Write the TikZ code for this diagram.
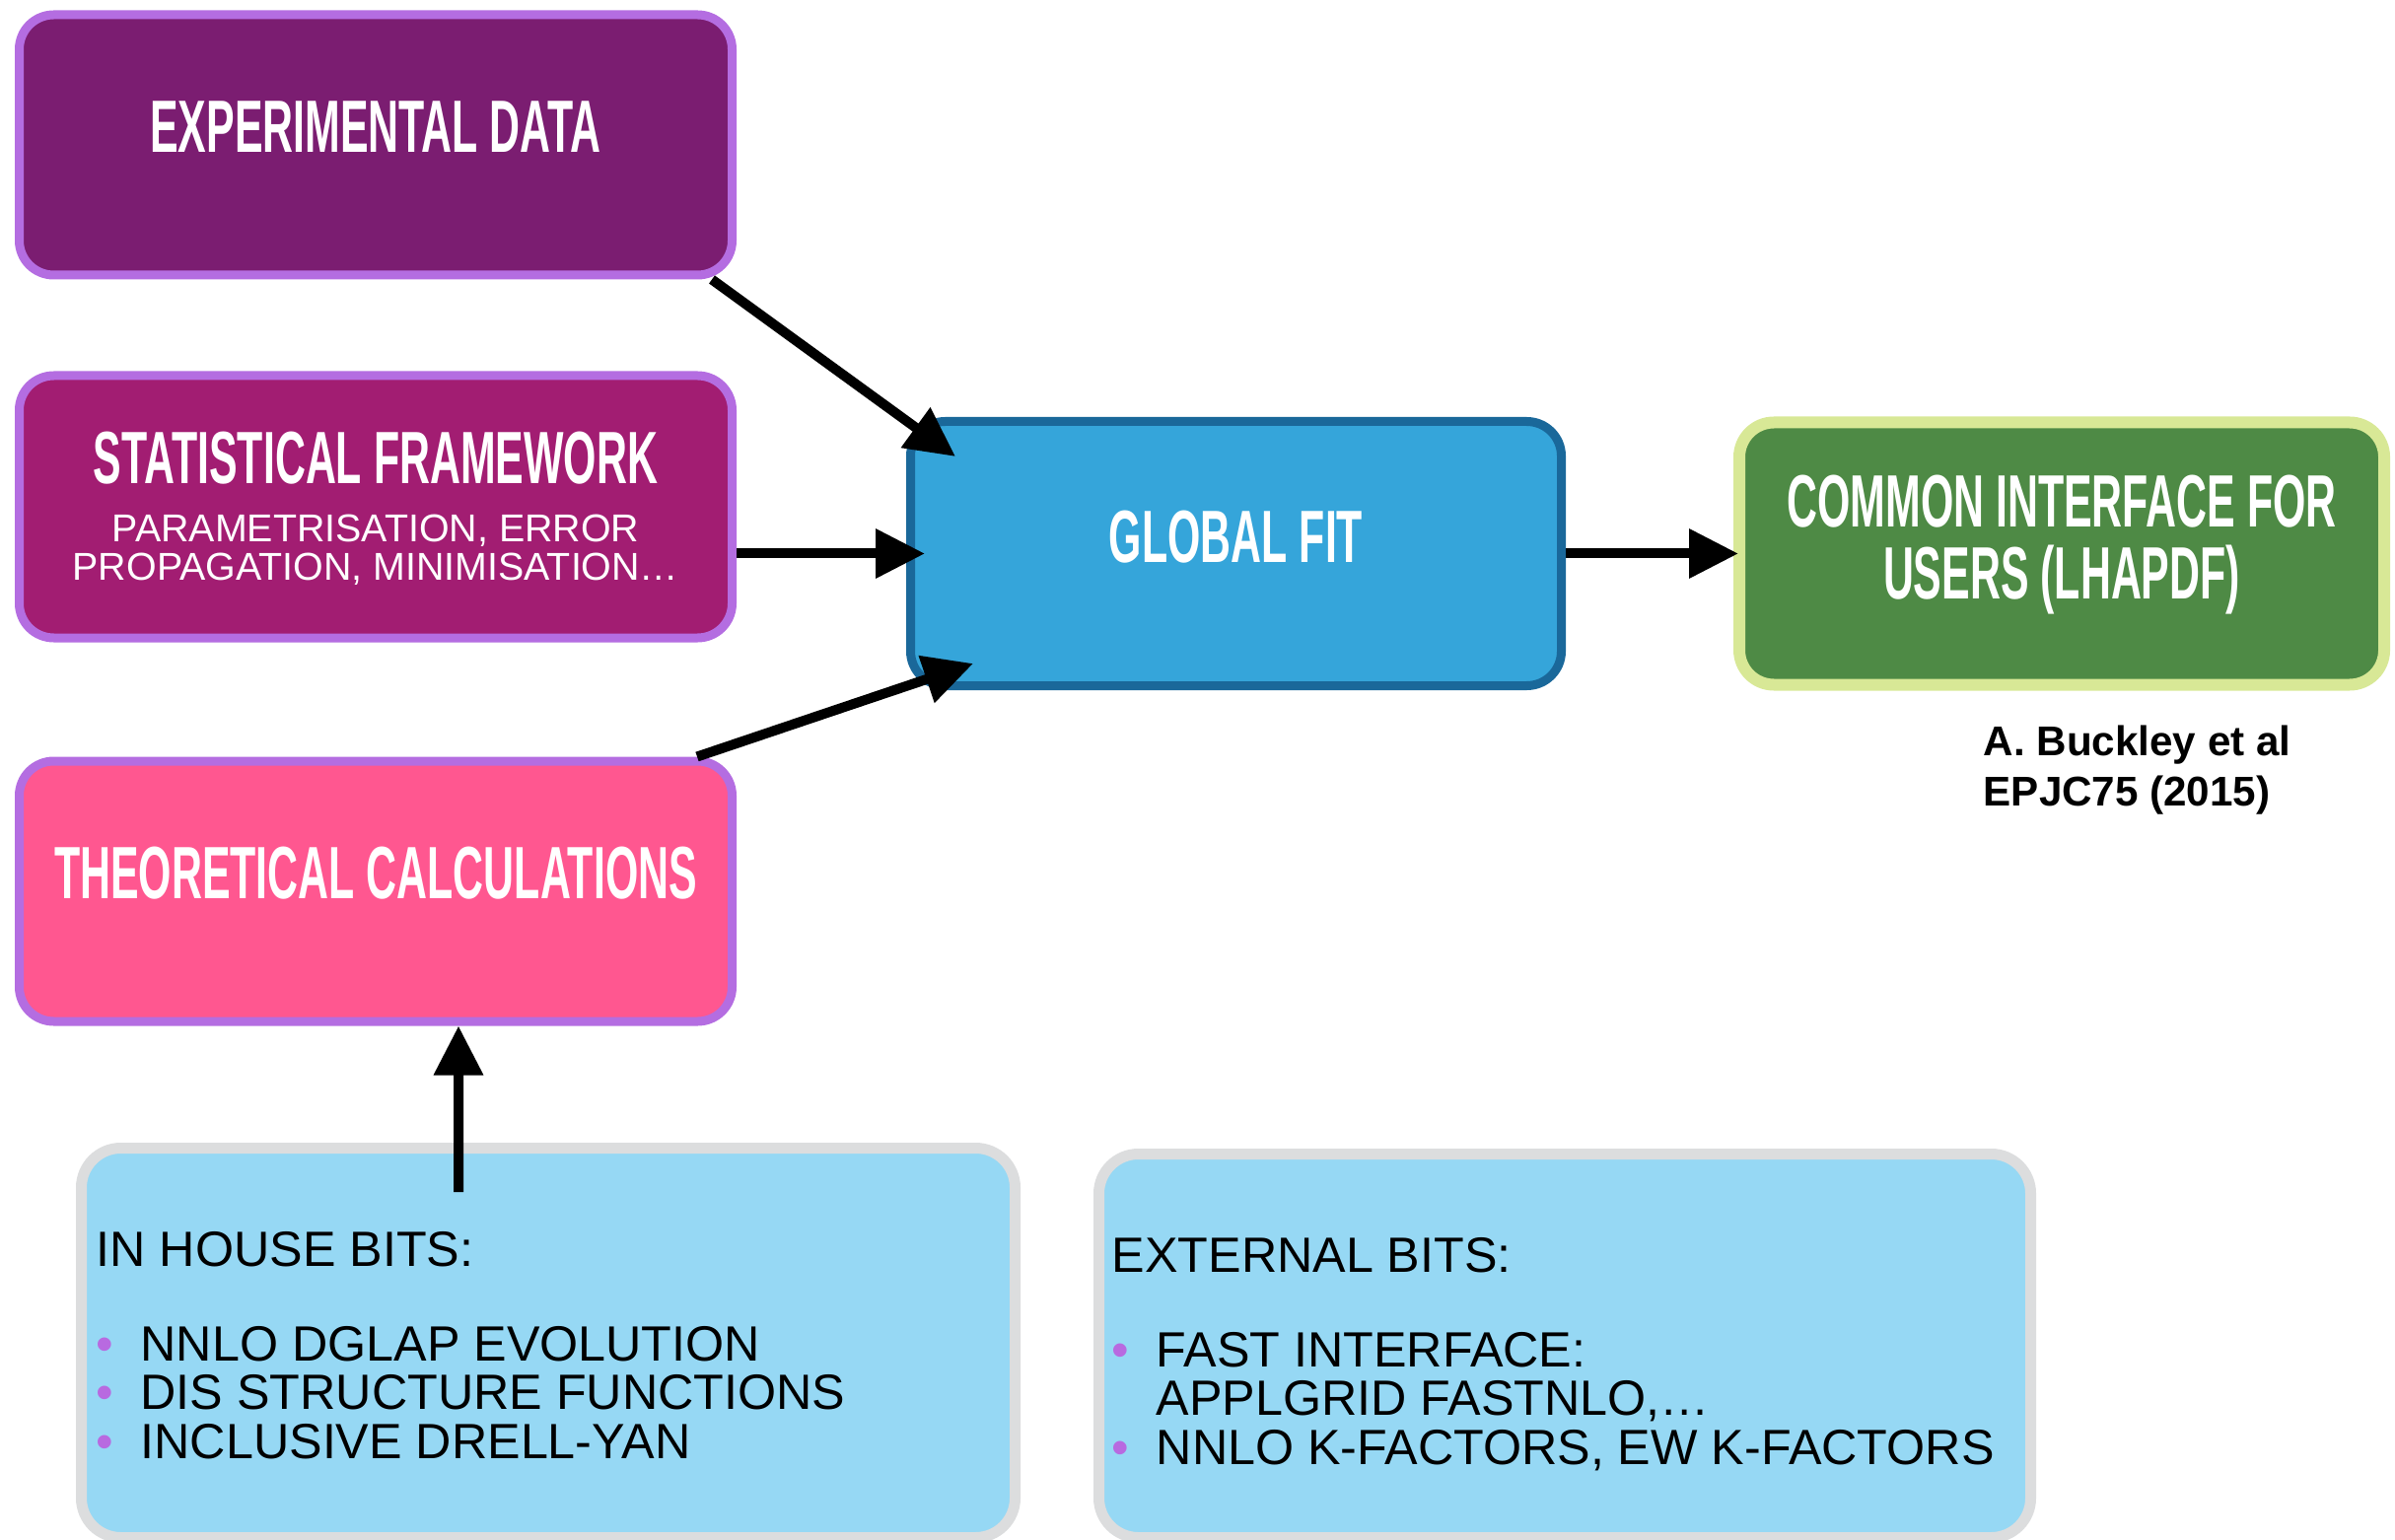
\documentclass[tikz,border=0pt]{standalone}
\usepackage{fontspec}
\setmainfont{Liberation Sans}
\newfontfamily\titlefont{Liberation Sans}[FakeStretch=0.57]
\usetikzlibrary{positioning,arrows.meta}

\definecolor{expfill}{HTML}{7B1D71}
\definecolor{statfill}{HTML}{A21D72}
\definecolor{theofill}{HTML}{FF5790}
\definecolor{edgepurple}{HTML}{B46DE1}
\definecolor{fitfill}{HTML}{35A5DA}
\definecolor{fitedge}{HTML}{1A689A}
\definecolor{lhafill}{HTML}{4E8A45}
\definecolor{lhaedge}{HTML}{D8E896}
\definecolor{bitsfill}{HTML}{96D8F4}
\definecolor{bitsgray}{HTML}{DCDDDE}
\definecolor{dotpurple}{HTML}{B86AE0}

\newcommand{\dotitem}{\makebox[0.45cm][l]{\textcolor{dotpurple}{\textbullet}}}

\tikzset{
  box/.style={draw, rounded corners=0.35cm, line width=0.09cm, minimum width=7.23cm, minimum height=2.64cm, inner sep=0pt},
  purplebox/.style={box, draw=edgepurple},
  title/.style={text=white, font=\titlefont\bfseries\fontsize{21.4}{21}\selectfont, align=center, inner sep=0pt},
  sub/.style={text=white, font=\fontsize{11.2}{11}\selectfont, align=center, inner sep=0pt},
  bitsbox/.style={draw=bitsgray, fill=bitsfill, rounded corners=0.4cm, line width=0.11cm, inner sep=0pt},
  bits/.style={font=\fontsize{14.3}{14.1}\selectfont, align=left, anchor=north west, inner sep=0pt},
  arr/.style={-{Triangle[length=0.5cm,width=0.48cm]}, line width=0.1cm},
}

\begin{document}
\begin{tikzpicture}
\useasboundingbox (0,0) rectangle (24.29,15.61);
% Input boxes on the left
\node[purplebox, fill=expfill] (exp) at (3.81,14.14) {};
\node[purplebox, fill=statfill, minimum height=2.66cm] (stat) at (3.81,10.47) {};
\node[purplebox, fill=theofill] (theo) at (3.81,6.57) {};
\node[title] (expT) at ([yshift=0.18cm]exp.center) {EXPERIMENTAL DATA};
\node[title] (statT) at ([yshift=0.49cm]stat.center) {STATISTICAL FRAMEWORK};
\node[sub] (statS) at ([yshift=-0.44cm]stat.center) {PARAMETRISATION, ERROR\\PROPAGATION, MINIMISATION…};
\node[title] (theoT) at ([yshift=0.18cm]theo.center) {THEORETICAL CALCULATIONS};
% Fit and output
\node[box, draw=fitedge, fill=fitfill, minimum width=6.6cm, minimum height=2.68cm] (fit) at (12.535,9.995) {};
\node[box, draw=lhaedge, fill=lhafill, line width=0.12cm, minimum width=6.54cm, minimum height=2.66cm] (lha) at (20.91,9.995) {};
\node[title] (fitT) at ([yshift=0.165cm]fit.center) {GLOBAL FIT};
\node[title] (lhaT) at ([yshift=0.09cm]lha.center) {COMMON INTERFACE FOR\\USERS (LHAPDF)};
\node[font=\bfseries\fontsize{12}{14.5}\selectfont, align=left, anchor=north west, inner sep=0pt] (ref) at (20.11,8.26) {A. Buckley et al\\EPJC75 (2015)};
% Bottom boxes
\node[bitsbox, minimum width=9.47cm, minimum height=3.95cm] (inhouse) at (5.56,1.99) {};
\node[bitsbox, minimum width=9.45cm, minimum height=3.89cm] (external) at (15.87,1.96) {};
\node[bits] (inhouseT) at (0.97,3.12) {IN HOUSE BITS:\\[13.1pt]
  \dotitem NNLO DGLAP EVOLUTION\\
  \dotitem DIS STRUCTURE FUNCTIONS\\
  \dotitem INCLUSIVE DRELL-YAN};
\node[bits] (externalT) at (11.27,3.06) {EXTERNAL BITS:\\[13.1pt]
  \dotitem FAST INTERFACE:\\
  \hspace*{0.45cm}APPLGRID FASTNLO,…\\
  \dotitem NNLO K-FACTORS, EW K-FACTORS};
% Arrows
\draw[arr] ([xshift=-0.25cm]exp.south east) -- ([xshift=0.5cm,yshift=-0.4cm]fit.north west);
\draw[arr] (stat.east |- fit.west) -- ([xshift=0.19cm]fit.west);
\draw[arr] ([xshift=-0.4cm]theo.north east) -- ([xshift=0.68cm,yshift=0.27cm]fit.south west);
\draw[arr] (fit.east) -- ([xshift=0.05cm]lha.west);
\draw[arr] ([xshift=-0.91cm,yshift=-0.5cm]inhouse.north) -- ([xshift=0.84cm]theo.south);
\end{tikzpicture}
\end{document}
